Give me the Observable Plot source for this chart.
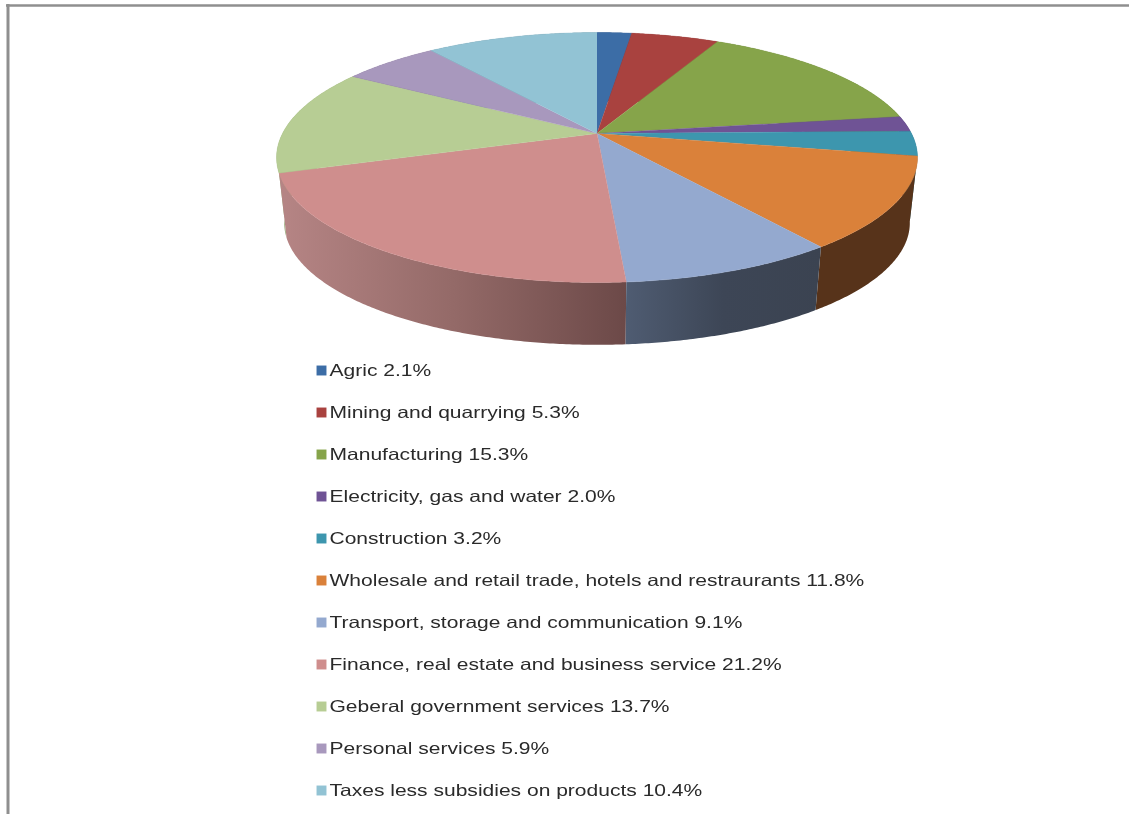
<!DOCTYPE html>
<html>
<head>
<meta charset="utf-8">
<script src="https://cdn.jsdelivr.net/npm/d3@7"></script>
<script src="https://cdn.jsdelivr.net/npm/@observablehq/plot@0.6"></script>
<style>
html,body{margin:0;padding:0;background:#fff;}
svg{display:block;max-width:none;}
</style>
</head>
<body>
<div id="chart"></div>
<script>
const sectors = ["Agric","Mining and quarrying","Manufacturing","Electricity, gas and water","Construction","Wholesale and retail trade, hotels and restraurants","Transport, storage and communication","Finance, real estate and business service","Geberal government services","Personal services","Taxes less subsidies on products"];
const shares = [2.1,5.3,15.3,2.0,3.2,11.8,9.1,21.2,13.7,5.9,10.4];
const topColors = ["#3c6da6","#a9423f","#86a44a","#6f5395","#3d96ae","#da813a","#94a9cf","#cf8e8d","#b7cd94","#a898bd","#92c3d4"];
const sideColors = ["#2a4c74","#762e2c","#5e7334","#4e3a68","#2b697a","#57331a","url(#sideTransport)","url(#sideFinance)","#9aad7c","#766a84","#668894"];

// Perspective view of the pie: top ring and bottom ring
const k = 0.192;
const topRing = {cx:596.5, cy:133, a:314.5, b:120.4};
const botRing = {cx:596.5, cy:199, a:307, b:117.4};
const project = (deg, r) => {
  const t = deg*Math.PI/180, X = Math.sin(t), Y = Math.cos(t), w = 1 + k*Y;
  return {x: r.cx + r.a*X/w, y: r.cy - r.b*Y/w};
};
let acc = 0;
const slices = shares.map((v,i) => {
  const start = acc*3.6; acc += v; const end = acc*3.6;
  const n = Math.max(2, Math.ceil((end-start)*2));
  const angles = d3.range(n+1).map(j => start + (end-start)*j/n);
  return {
    top: [{x:topRing.cx,y:topRing.cy}, ...angles.map(a => project(a,topRing))],
    side: [...angles.map(a => project(a,topRing)), ...angles.slice().reverse().map(a => project(a,botRing))],
    i
  };
});
const drawOrder = [0,1,2,3,10,9,4,8,5,7,6];

const legendRows = sectors.map((s,i) => ({label:`${s} ${shares[i].toFixed(1)}%`, color:topColors[i], y:370+42*i}));

const svg = Plot.plot({
  width:1129, height:814, margin:0,
  x:{domain:[0,1129], range:[0,1129], axis:null},
  y:{domain:[0,814], range:[0,814], axis:null},
  marks:[
    Plot.ruleY([5],{x1:6,x2:1129,stroke:"#8f8f8f",strokeWidth:2.5}),
    Plot.ruleX([7.5],{y1:4,y2:814,stroke:"#8f8f8f",strokeWidth:3}),
    ...drawOrder.map(i => Plot.line(slices[i].side,{x:"x",y:"y",fill:sideColors[i],stroke:null,curve:"linear"})),
    ...slices.map(s => Plot.line(s.top,{x:"x",y:"y",fill:topColors[s.i],stroke:topColors[s.i],strokeWidth:0.4,curve:"linear"})),
    Plot.dot(legendRows,{x:()=>321,y:"y",fill:"color",symbol:"square",r:5.6}),
    Plot.text(legendRows,{x:()=>329,y:"y",text:"label",textAnchor:"start",fontSize:16.5,fontFamily:"Liberation Sans",fill:"#2a2a2a"})
  ]
});
const ns = "http://www.w3.org/2000/svg";
const defs = document.createElementNS(ns,"defs");
const grads = {
  sideFinance:[["0","#b68585"],["0.5","#946a68"],["1","#6c4948"]],
  sideTransport:[["0","#4f5c72"],["0.5","#3d4656"],["1","#3b4351"]]
};
for (const [id,stops] of Object.entries(grads)) {
  const g = document.createElementNS(ns,"linearGradient"); g.setAttribute("id",id);
  for (const [o,c] of stops) { const s = document.createElementNS(ns,"stop"); s.setAttribute("offset",o); s.setAttribute("stop-color",c); g.appendChild(s); }
  defs.appendChild(g);
}
svg.insertBefore(defs, svg.firstChild);
d3.select(svg).selectAll("text").each(function(){
  const t = this.getAttribute("transform")||"";
  this.setAttribute("transform", t+" scale(1.275,1)");
});
svg.style.filter = "blur(0.5px)";
document.getElementById("chart").appendChild(svg);
</script>
</body>
</html>
